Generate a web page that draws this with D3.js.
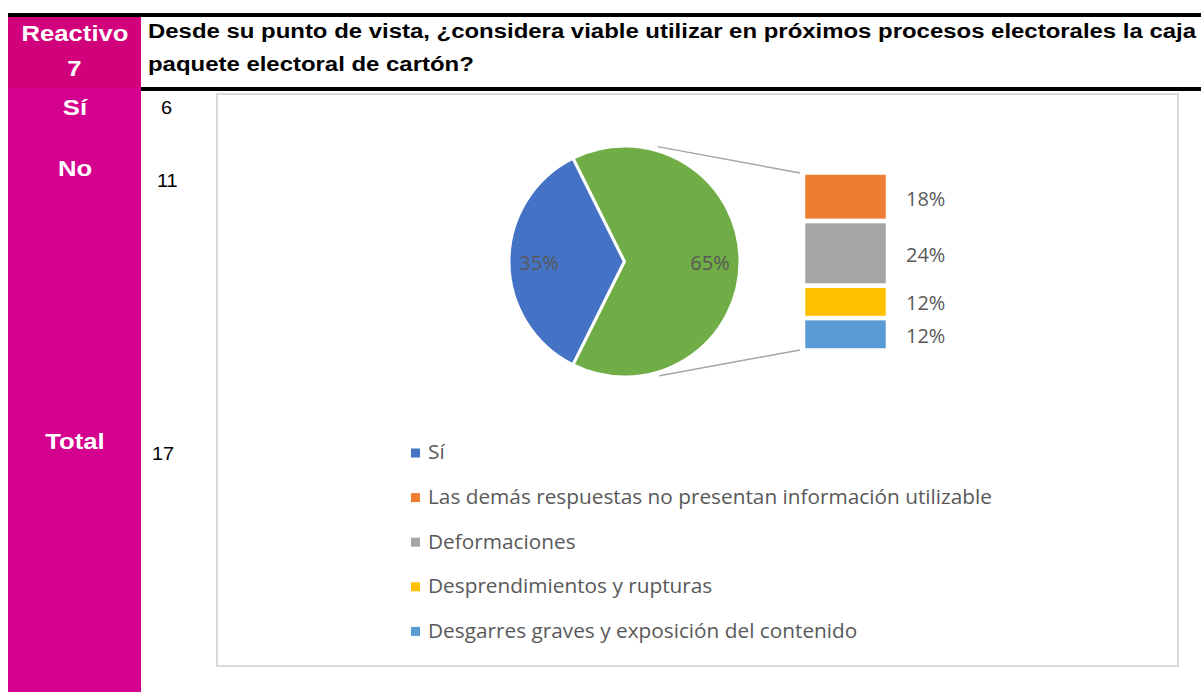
<!DOCTYPE html>
<html><head><meta charset="utf-8">
<script src="https://cdn.jsdelivr.net/npm/d3@7"></script>
<style>html,body{margin:0;padding:0;background:#fff;}svg{display:block;}</style>
</head><body>
<script>
// ---- data ----
const rowLabels = ["Sí", "No", "Total"];
const rowCounts = [6, 11, 17];
const pieCategories = ["Sí", "No"];
const pieValues = [6, 11];
const barCategories = ["Las demás respuestas no presentan información utilizable", "Deformaciones", "Desprendimientos y rupturas", "Desgarres graves y exposición del contenido"];
const barValues = [3, 4, 2, 2];
const legendLabels = ["Sí", "Las demás respuestas no presentan información utilizable", "Deformaciones", "Desprendimientos y rupturas", "Desgarres graves y exposición del contenido"];
const headerLabel = ["Reactivo", "7"];
const titleLines = ["Desde su punto de vista, ¿considera viable utilizar en próximos procesos electorales la caja", "paquete electoral de cartón?"];

const W = 1201, H = 692;
const svg = d3.select("body").append("svg").attr("width", W).attr("height", H);
const total = d3.sum(pieValues);
const pct = d3.format(".0%");

// ---- table frame ----
svg.append("rect").attr("x", 8).attr("y", 17).attr("width", 133).attr("height", 71).attr("fill", "#d1007b");
svg.append("rect").attr("x", 8).attr("y", 88).attr("width", 133).attr("height", H - 88).attr("fill", "#d4008e");
svg.append("rect").attr("x", 8).attr("y", 13).attr("width", W - 8).attr("height", 4).attr("fill", "#000");
svg.append("rect").attr("x", 141).attr("y", 87).attr("width", W - 141).attr("height", 4).attr("fill", "#000");

const arial = "'Liberation Sans', Arial, sans-serif";
function stretch(sel, k) {
  sel.each(function () { const w = this.getComputedTextLength(); d3.select(this).attr("textLength", w * k).attr("lengthAdjust", "spacingAndGlyphs"); });
  return sel;
}
const kCell = 1.14;
stretch(svg.append("text").attr("x", 75).attr("y", 41).attr("text-anchor", "middle").attr("font-family", arial).attr("font-weight", "bold").attr("font-size", 22.5).attr("fill", "#fff").text(headerLabel[0]), kCell);
stretch(svg.append("text").attr("x", 74.5).attr("y", 76).attr("text-anchor", "middle").attr("font-family", arial).attr("font-weight", "bold").attr("font-size", 22.5).attr("fill", "#fff").text(headerLabel[1]), kCell);

const rowY = [115, 176, 449];
const numY = [114, 187, 460];
const numX = [161, 157, 152];
rowLabels.forEach((l, i) => {
  stretch(svg.append("text").attr("x", 75).attr("y", rowY[i]).attr("text-anchor", "middle").attr("font-family", arial).attr("font-weight", "bold").attr("font-size", 22.5).attr("fill", "#fff").text(l), kCell);
  stretch(svg.append("text").attr("x", numX[i]).attr("y", numY[i]).attr("font-family", arial).attr("font-size", 19).attr("fill", "#000").text(rowCounts[i]), 1.05);
});

// title, same horizontal stretch for both lines
const titleSel = svg.selectAll("text.title").data(titleLines).join("text").attr("class", "title")
  .attr("x", 148).attr("y", (d, i) => i === 0 ? 38 : 71)
  .attr("font-family", arial).attr("font-weight", "bold").attr("font-size", 19.5).attr("fill", "#000").text(d => d);
const kTitle = 1048 / titleSel.nodes()[0].getComputedTextLength();
stretch(titleSel, kTitle);

// ---- chart box ----
svg.append("rect").attr("x", 217).attr("y", 94).attr("width", 961).attr("height", 572).attr("fill", "#fff").attr("stroke", "#d9d9d9").attr("stroke-width", 2);

const font = "'Open Sans', 'Noto Sans', sans-serif";
const textCol = "#595959";

// ---- pie ----
const cx = 624.5, cy = 261.5, r = 115.5;
const pieColors = ["#4472c4", "#70ad47"];
const start = 3 * Math.PI / 2 - (pieValues[0] / total) * Math.PI;
const pie = d3.pie().sort(null).startAngle(start).endAngle(start + 2 * Math.PI);
const arcs = pie(pieValues);
const arc = d3.arc().innerRadius(0).outerRadius(r);
const lab = d3.arc().innerRadius(r * 0.74).outerRadius(r * 0.74);
const pg = svg.append("g").attr("transform", `translate(${cx},${cy})`);
pg.selectAll("path").data(arcs).join("path").attr("d", arc).attr("fill", (d, i) => pieColors[i]).attr("stroke", "#fff").attr("stroke-width", 3).attr("stroke-linejoin", "miter");
pg.selectAll("text").data(arcs).join("text")
  .attr("x", d => lab.centroid(d)[0]).attr("y", d => lab.centroid(d)[1] + 3)
  .attr("text-anchor", "middle").attr("dominant-baseline", "middle")
  .attr("font-family", font).attr("font-size", 20).attr("fill", textCol)
  .text(d => pct(d.data / total));

// ---- bar of pie ----
const barX = 803, barW = 85;
const barTotal = d3.sum(barValues);
const y = d3.scaleLinear().domain([0, barTotal]).range([172.5, 350.5]);
const cum = [0]; barValues.forEach((v, i) => cum.push(cum[i] + v));
const barColors = ["#ed7d31", "#a5a5a5", "#ffc000", "#5b9bd5"];
const bg = svg.append("g");
bg.selectAll("rect").data(barValues).join("rect")
  .attr("x", barX).attr("width", barW)
  .attr("y", (d, i) => y(cum[i])).attr("height", (d, i) => y(cum[i + 1]) - y(cum[i]))
  .attr("fill", (d, i) => barColors[i]).attr("stroke", "#fff").attr("stroke-width", 4.5);
const labOff = [3.5, 3.5, 2.5, 3.5];
bg.selectAll("text").data(barValues).join("text")
  .attr("x", 906).attr("y", (d, i) => (y(cum[i]) + y(cum[i + 1])) / 2 + labOff[i])
  .attr("dominant-baseline", "middle").attr("font-family", font).attr("font-size", 20).attr("fill", textCol)
  .text(d => pct(d / total));

// connectors
const a1 = 16 * Math.PI / 180, a2 = 163 * Math.PI / 180, rr = r + 4;
svg.append("line").attr("x1", cx + rr * Math.sin(a1)).attr("y1", cy - rr * Math.cos(a1)).attr("x2", barX - 3).attr("y2", y(0) + 0.5).attr("stroke", "#a6a6a6").attr("stroke-width", 1.5);
svg.append("line").attr("x1", cx + rr * Math.sin(a2)).attr("y1", cy - rr * Math.cos(a2)).attr("x2", barX - 3).attr("y2", y(barTotal) - 0.5).attr("stroke", "#a6a6a6").attr("stroke-width", 1.5);

// ---- legend ----
const legColors = [pieColors[0]].concat(barColors);
const lg = svg.append("g");
const legTexts = [];
legendLabels.forEach((l, i) => {
  const yy = 453 + i * 44.6;
  lg.append("rect").attr("x", 411).attr("y", yy - 4.5).attr("width", 9).attr("height", 9).attr("fill", legColors[i]);
  legTexts.push(lg.append("text").attr("x", 428).attr("y", yy + 1).attr("dominant-baseline", "middle").attr("font-family", font).attr("font-size", 20).attr("fill", textCol).text(l));
});
const kLeg = 564 / legTexts[1].node().getComputedTextLength();
legTexts.forEach(t => stretch(t, kLeg));
</script>
</body></html>
